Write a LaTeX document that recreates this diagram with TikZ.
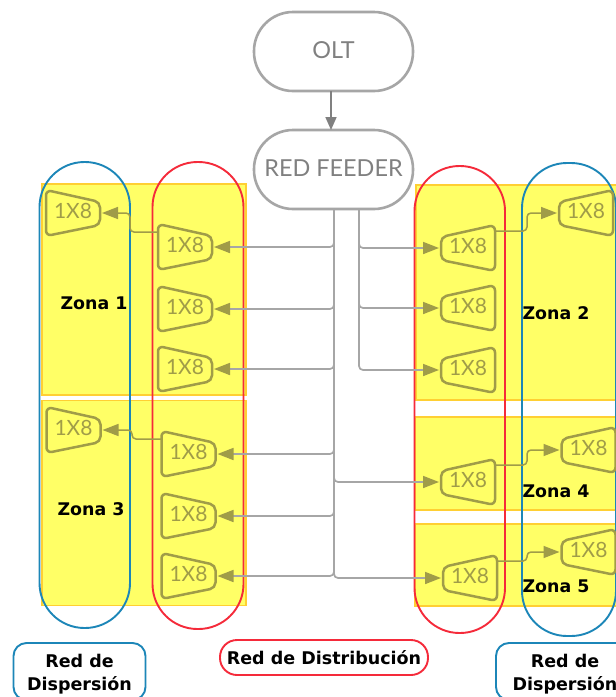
\documentclass[tikz,border=0pt]{standalone}
\usepackage{fontspec}
\setmainfont{Lato}
\newfontfamily\zonefont{DejaVu Sans}[BoldFont={DejaVu Sans Bold}]
\usetikzlibrary{arrows.meta,calc}
\definecolor{zonefill}{HTML}{FFFF66}
\definecolor{zoneline}{HTML}{FFCF33}
\definecolor{capblue}{HTML}{1C86B8}
\definecolor{capred}{HTML}{F52A3A}
\definecolor{olivec}{HTML}{A09C48}
\definecolor{grayc}{HTML}{A6A6A6}
\definecolor{grayt}{HTML}{808080}
\tikzset{
  zonebox/.style={draw=zoneline,fill=zonefill,line width=1.4pt,inner sep=0,outer sep=0},
  capsule/.style={draw,line width=1.9pt,inner sep=0,outer sep=0,rounded corners=45pt},
  mainbox/.style={draw=grayc,line width=2.6pt,inner sep=0,outer sep=0,minimum width=159pt,minimum height=79pt,rounded corners=39pt,text=grayt,font=\fontsize{23.4}{26}\selectfont},
  splitbox/.style={inner sep=0,outer sep=0,minimum width=58pt,minimum height=46pt,text=olivec,font=\fontsize{21}{24}\selectfont},
  splitline/.style={draw=olivec,line width=2.5pt,rounded corners=5.5pt},
  feedline/.style={draw=grayc,line width=1.7pt,rounded corners=4pt,-{Triangle[length=16pt,width=12pt,color=olivec,fill=olivec]}},
  displine/.style={draw=olivec,line width=1.5pt,rounded corners=4pt,-{Triangle[length=16pt,width=12pt,color=olivec,fill=olivec]}},
  zonelabel/.style={inner sep=0,font=\zonefont\bfseries\fontsize{17.4}{20}\selectfont},
  netlabel/.style={line width=1.9pt,inner sep=0,outer sep=0,align=center,font=\zonefont\bfseries\fontsize{17.5}{23}\selectfont},
}
\newcommand{\netline}[1]{\raisebox{-2.5pt}[0.75em][0.2em]{#1}}
% wide side left, arrow enters at the right
\newcommand{\splitL}[3]{%
  \draw[splitline] (#2-27,#3-23) -- (#2+27,#3-11) -- (#2+27,#3+12) -- (#2-27,#3+23) -- cycle;
  \node[splitbox] (#1) at (#2,#3) {\raisebox{3.5pt}{1X8}};
  \coordinate (#1o) at (#2-27,#3-15);}
% wide side right, arrow enters at the left
\newcommand{\splitR}[3]{%
  \draw[splitline] (#2+27,#3-23) -- (#2-27,#3-11) -- (#2-27,#3+12) -- (#2+27,#3+23) -- cycle;
  \node[splitbox] (#1) at (#2,#3) {\raisebox{3.5pt}{1X8}};
  \coordinate (#1o) at (#2+27,#3-17);}
\begin{document}
\begin{tikzpicture}[x=1pt,y=-1pt]
\clip (0,0) rectangle (616,697);
\fill[white] (0,0) rectangle (616,697);
% zones
\node[zonebox,minimum width=204pt,minimum height=211pt] (z1) at (144,289.5) {};
\node[zonebox,minimum width=204pt,minimum height=205pt] (z3) at (144,503) {};
\node[zonebox,minimum width=210pt,minimum height=215pt] (z2) at (521,292.5) {};
\node[zonebox,minimum width=211pt,minimum height=93pt] (z4) at (520.5,463.5) {};
\node[zonebox,minimum width=211pt,minimum height=82pt] (z5) at (520.5,565) {};
% capsules
\node[capsule,draw=capblue,minimum width=90.5pt,minimum height=466pt] (cb1) at (84.75,395) {};
\node[capsule,draw=capred,minimum width=91pt,minimum height=467pt] (cr1) at (198,395.5) {};
\node[capsule,draw=capred,minimum width=90.5pt,minimum height=467pt] (cr2) at (459.75,399.5) {};
\node[capsule,draw=capblue,minimum width=94pt,minimum height=473pt] (cb2) at (569,399.5) {};
% main boxes
\node[mainbox] (olt) at (333.5,51.5) {\raisebox{3pt}{OLT}};
\node[mainbox] (feeder) at (333.5,169.5) {\raisebox{2pt}{RED FEEDER}};
\coordinate (ax) at (331,0);
\draw[draw=grayt,line width=1.7pt,-{Triangle[length=13pt,width=11pt,color=grayt,fill=grayt]}] (olt.south -| ax) -- (feeder.north -| ax);
% splitters
\splitL{a1}{185}{247}
\splitL{a2}{185}{309}
\splitL{a3}{185}{369}
\splitL{a4}{188.5}{454}
\splitL{a5}{188.5}{516}
\splitL{a6}{188.5}{576}
\splitL{d1}{73}{213}
\splitL{d3}{73.5}{430}
\splitR{b1}{468}{248}
\splitR{b2}{468}{308}
\splitR{b3}{468}{370}
\splitR{b4}{468}{482}
\splitR{b5}{470}{578}
\splitR{d2}{586}{213}
\splitR{d4}{588.5}{450}
\splitR{d5}{588.5}{552}
% feeder trunks
\coordinate (tl) at (334,209);
\coordinate (tr) at (359,209);
\foreach \n in {a1,a2,a3,a4,a5,a6}{\draw[feedline] (tl) |- (\n.east);}
\foreach \n in {b4,b5}{\draw[feedline] (tl) |- (\n.west);}
\foreach \n in {b1,b2,b3}{\draw[feedline] (tr) |- (\n.west);}
% dispersion links
\coordinate (v1) at (130,0);
\coordinate (v3) at (132,0);
\coordinate (v2) at (527,0);
\draw[displine] (a1o) -- (a1o -| v1) -- (v1 |- d1.east) -- (d1.east);
\draw[displine] (a4o) -- (a4o -| v3) -- (v3 |- d3.east) -- (d3.east);
\draw[displine] (b1o) -- (b1o -| v2) -- (v2 |- d2.west) -- (d2.west);
\draw[displine] (b4o) -- (b4o -| v2) -- (v2 |- d4.west) -- (d4.west);
\draw[displine] (b5o) -- (b5o -| v2) -- (v2 |- d5.west) -- (d5.west);
% zone labels
\node[zonelabel] (l1) at (94,303) {Zona 1};
\node[zonelabel] (l2) at (556,313) {Zona 2};
\node[zonelabel] (l3) at (91,509) {Zona 3};
\node[zonelabel] (l4) at (556,491) {Zona 4};
\node[zonelabel] (l5) at (556,586) {Zona 5};
% network labels
\node[netlabel,draw=capblue,minimum width=132pt,minimum height=57pt,rounded corners=13pt] (n1) at (79.5,671.5) {\netline{Red de}\\\netline{Dispersión}};
\node[netlabel,draw=capblue,minimum width=138pt,minimum height=57pt,rounded corners=13pt] (n3) at (565,671.5) {\netline{Red de}\\\netline{Dispersión}};
\node[netlabel,draw=capred,minimum width=208pt,minimum height=35pt,rounded corners=17pt] (n2) at (324,657.5) {Red de Distribución};
\end{tikzpicture}
\end{document}
